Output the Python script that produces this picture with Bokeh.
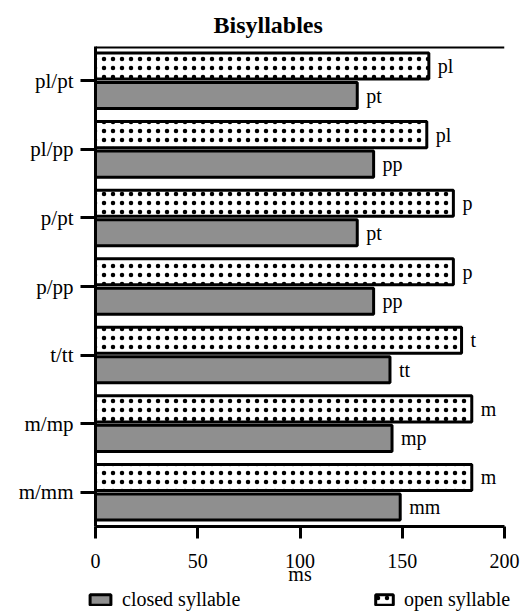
from bokeh.plotting import figure
from bokeh.layouts import column
from bokeh.models import (FactorRange, Legend, LegendItem, Span, ColumnDataSource,
                          FixedTicker, Range1d)
from bokeh.transform import dodge
from bokeh.core.properties import value
from bokeh.embed import file_html
from bokeh.resources import INLINE

# ---- data ----
categories = ["pl/pt", "pl/pp", "p/pt", "p/pp", "t/tt", "m/mp", "m/mm"]
open_values = [163, 162, 175, 175, 179, 184, 184]
closed_values = [128, 136, 128, 136, 144, 145, 149]
open_labels = ["pl", "pl", "p", "p", "t", "m", "m"]
closed_labels = ["pt", "pp", "pt", "pp", "tt", "mp", "mm"]
x_ticks = [0, 50, 100, 150, 200]

FONT = "Liberation Serif"

src = ColumnDataSource(dict(cat=categories, open=open_values, closed=closed_values,
                            open_lab=open_labels, closed_lab=closed_labels))

open_style = dict(fill_color="white", hatch_pattern="dot", hatch_color="black",
                  hatch_scale=9, hatch_weight=1.6, line_color="black", line_width=3)
closed_style = dict(fill_color="#8f8f8f", line_color="black", line_width=3)

# ---- main chart ----
p = figure(width=521, height=591,
           y_range=FactorRange(factors=categories[::-1]),
           x_range=Range1d(0, 200),
           output_backend="svg", toolbar_location=None,
           min_border_left=95, min_border_right=17, min_border_top=46, min_border_bottom=65)
p.frame_align = False

p.title.text = "Bisyllables"
p.title.text_font = FONT
p.title.text_font_size = "24px"
p.title.text_font_style = "bold"
p.title.text_color = "black"
p.title.align = "left"
p.title.offset = 118
p.title.standoff = 18

p.outline_line_color = None
p.xgrid.grid_line_color = None
p.ygrid.grid_line_color = None

r_open = p.hbar(y=dodge("cat", 0.215, range=p.y_range), left=0, right="open", height=0.38,
                source=src, **open_style)
r_closed = p.hbar(y=dodge("cat", -0.215, range=p.y_range), left=0, right="closed", height=0.38,
                  source=src, **closed_style)

txt = dict(text_font=value(FONT), text_font_size="20px", text_baseline="middle",
           text_align="left", text_color="black", x_offset=9)
p.text(x="open", y=dodge("cat", 0.215, range=p.y_range), text="open_lab", source=src, **txt)
p.text(x="closed", y=dodge("cat", -0.215, range=p.y_range), text="closed_lab", source=src, **txt)

# top frame line
p.add_layout(Span(location=len(categories), dimension="width", line_color="black", line_width=4))

ya = p.yaxis[0]
ya.axis_line_width = 3
ya.major_tick_out = 15
ya.major_tick_in = 0
ya.major_tick_line_width = 3
ya.major_label_text_font = FONT
ya.major_label_text_font_size = "21px"
ya.major_label_text_color = "black"
ya.major_label_standoff = 7
ya.minor_tick_line_color = None

xa = p.xaxis[0]
xa.ticker = FixedTicker(ticks=x_ticks)
xa.axis_line_width = 3
xa.major_tick_out = 12
xa.major_tick_in = 0
xa.major_tick_line_width = 3
xa.minor_tick_line_color = None
xa.major_label_text_font = FONT
xa.major_label_text_font_size = "20px"
xa.major_label_text_color = "black"
xa.major_label_standoff = 15
xa.axis_label = "ms"
xa.axis_label_text_font = FONT
xa.axis_label_text_font_size = "20px"
xa.axis_label_text_font_style = "normal"
xa.axis_label_text_color = "black"
xa.axis_label_standoff = -8

# ---- legend strip: its proxy bars map to no factor of its range, so only the legend shows ----
q = figure(width=521, height=20,
           y_range=FactorRange(factors=["legend"]),
           x_range=Range1d(300, 400),
           output_backend="svg", toolbar_location=None,
           x_axis_location=None, y_axis_location=None,
           min_border_left=0, min_border_right=0, min_border_top=0, min_border_bottom=0)
q.frame_align = False
q.outline_line_color = None
q.xgrid.grid_line_color = None
q.ygrid.grid_line_color = None
lo = q.hbar(y="cat", left=0, right="open", height=0.38, source=src, **open_style)
lc = q.hbar(y="cat", left=0, right="closed", height=0.38, source=src, **closed_style)

leg_common = dict(padding=0, margin=0, border_line_color=None, background_fill_alpha=0,
                  label_standoff=9, glyph_height=13,
                  label_text_font=FONT, label_text_font_size="20px", label_text_color="black")
q.add_layout(Legend(items=[LegendItem(label="closed syllable", renderers=[lc])],
                    location=(87, 0), glyph_width=26, **leg_common), "center")
q.add_layout(Legend(items=[LegendItem(label="open syllable", renderers=[lo])],
                    location=(373, 0), glyph_width=22, **leg_common), "center")

layout = column(p, q, spacing=0)
open("out.html", "w").write(file_html(layout, INLINE))
